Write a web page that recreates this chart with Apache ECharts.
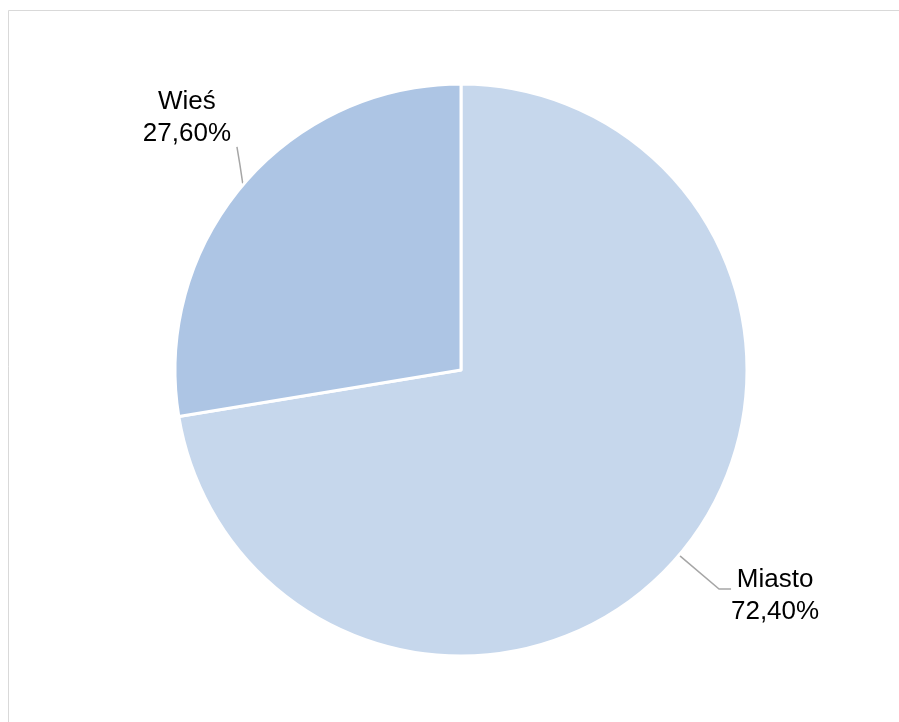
<!DOCTYPE html>
<html>
<head>
<meta charset="utf-8">
<script src="https://cdn.jsdelivr.net/npm/echarts@6/dist/echarts.min.js"></script>
<style>
html,body{margin:0;padding:0;background:#fff;}
#chart{width:899px;height:722px;}
</style>
</head>
<body>
<div id="chart"></div>
<script>
var categories = ['Miasto', 'Wieś'];
var values = [72.40, 27.60];
var colors = ['#C6D7EC', '#ADC5E4'];

var chart = echarts.init(document.getElementById('chart'), null, {renderer: 'canvas'});

function fmt(v) {
  return v.toFixed(2).replace('.', ',') + '%';
}

var seriesData = categories.map(function (c, i) {
  return {name: c, value: values[i], itemStyle: {color: colors[i]}};
});

var option = {
  backgroundColor: '#ffffff',
  animation: false,
  graphic: [{
    type: 'rect',
    shape: {x: 8.5, y: 10.5, width: 1200, height: 1200},
    style: {fill: 'none', stroke: '#D9D9D9', lineWidth: 1},
    silent: true,
    z: -10
  }],
  series: [{
    type: 'pie',
    center: [461, 370],
    radius: [0, 286],
    startAngle: 90,
    clockwise: true,
    data: seriesData,
    itemStyle: {borderColor: '#ffffff', borderWidth: 3},
    label: {
      show: true,
      position: 'outside',
      formatter: function (p) { return p.name + '\n' + fmt(p.value); },
      fontFamily: 'Liberation Sans, Arial, sans-serif',
      fontSize: 26,
      lineHeight: 32,
      color: '#000000',
      align: 'center'
    },
    labelLine: {
      show: true,
      length: 40,
      length2: 12,
      lineStyle: {color: '#A6A6A6', width: 1.5}
    },
    labelLayout: function (params) {
      var pts = params.labelLinePoints;
      var p0 = pts && pts[0] ? pts[0] : [0, 0];
      if (params.dataIndex === 0) {
        return {
          x: p0[0] + 96, y: p0[1] + 41,
          align: 'center', verticalAlign: 'middle',
          labelLinePoints: [p0, [p0[0] + 40, p0[1] + 34], [p0[0] + 52, p0[1] + 34]]
        };
      } else {
        return {
          x: p0[0] - 56, y: p0[1] - 67,
          align: 'center', verticalAlign: 'middle',
          labelLinePoints: [p0, [p0[0] - 3, p0[1] - 20], [p0[0] - 6, p0[1] - 38]]
        };
      }
    },
    emphasis: {disabled: true}
  }]
};

chart.setOption(option);
</script>
</body>
</html>
